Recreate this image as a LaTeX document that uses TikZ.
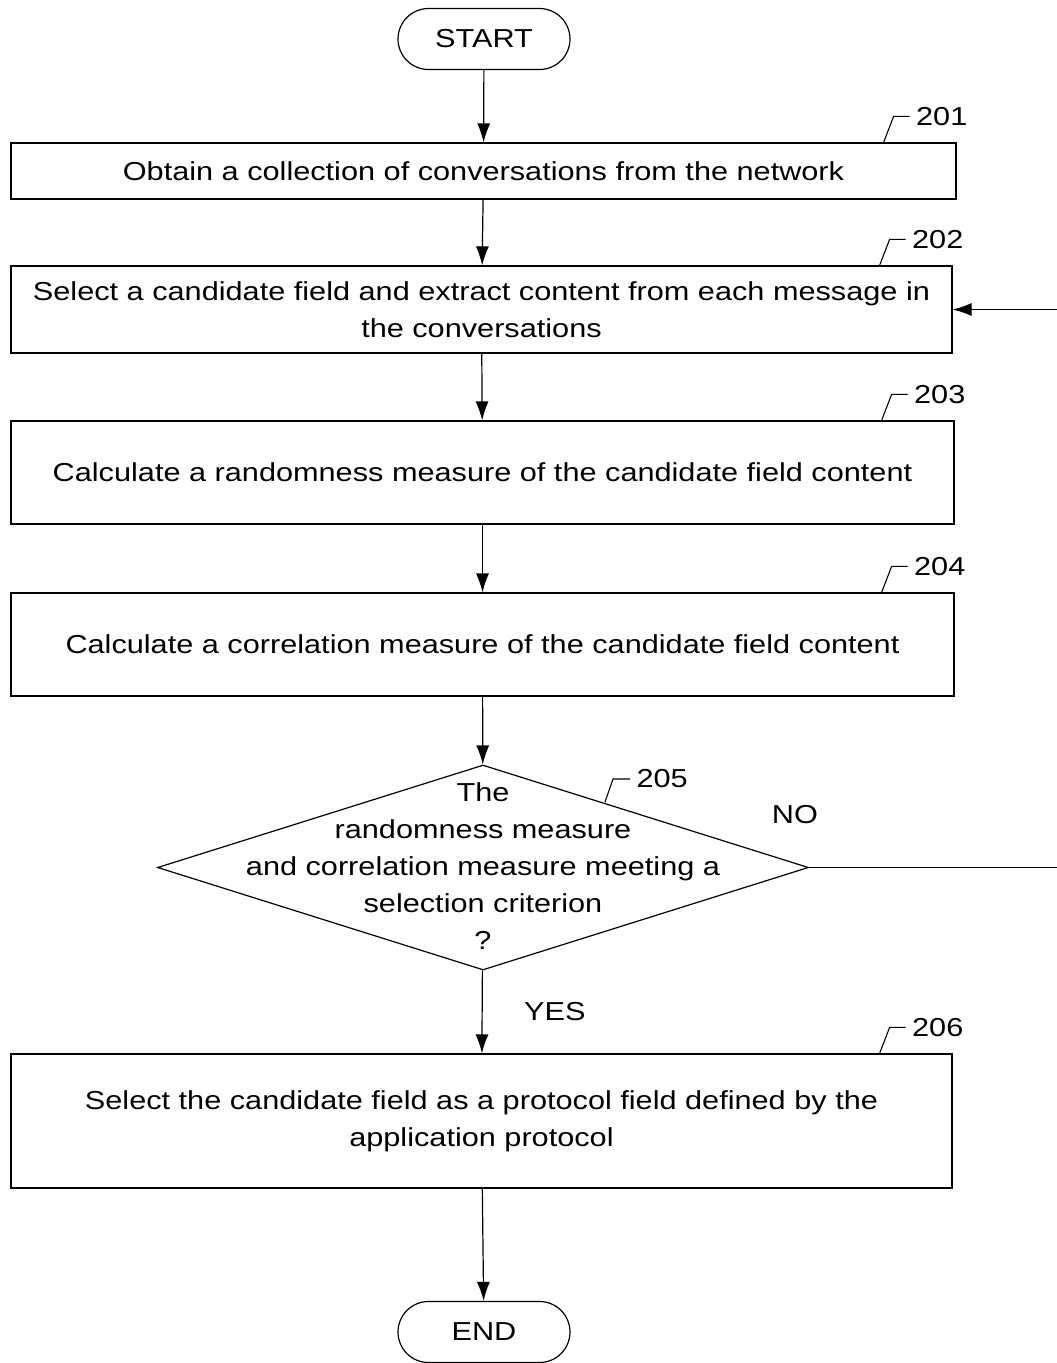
\documentclass[tikz,border=0pt]{standalone}
\usepackage{fontspec}
\setmainfont{Liberation Sans}[FakeStretch=1.18]
\usepackage{tikz}
\usetikzlibrary{positioning}
\usetikzlibrary{arrows.meta,shapes.geometric,shapes.misc}

\begin{document}
\begin{tikzpicture}[
    x=1pt, y=-1pt,
    font=\fontsize{26}{37}\selectfont,
    % flow chart shapes
    term/.style={rounded rectangle, draw, line width=1.2pt, minimum width=172pt, minimum height=61pt, inner sep=0pt},
    box/.style={rectangle, draw, line width=1.2pt, align=center, inner sep=0pt},
    dec/.style={diamond, draw, line width=1.2pt, minimum width=651pt, minimum height=205pt, inner sep=0pt},
    arr/.style={-{Latex[length=19pt,width=13pt]}, line width=1.2pt},
    line/.style={line width=1.2pt},
    lead/.style={line width=1.1pt},
    lbl/.style={anchor=west, inner sep=0pt},
]
\useasboundingbox (0,0) rectangle (1057,1363);

% -------------------------
% Terminals and steps
% -------------------------
\node[term] (start) at (484, 39) {START};

\node[box, minimum width=945pt, minimum height=56pt]  (b201) at (483.5, 171)   {Obtain a collection of conversations from the network};
\node[box, minimum width=941pt, minimum height=87pt]  (b202) at (481.5, 309.5) {Select a candidate field and extract content from each message in\\the conversations};
\node[box, minimum width=943pt, minimum height=103pt] (b203) at (482.5, 472.5) {Calculate a randomness measure of the candidate field content};
\node[box, minimum width=943pt, minimum height=103pt] (b204) at (482.5, 644.5) {Calculate a correlation measure of the candidate field content};

\node[dec] (d205) at (483, 867.5) {};
\node[align=center, inner sep=0pt] (t205) at (483, 866.5) {The\\randomness measure\\and correlation measure meeting a\\selection criterion\\?};

\node[box, minimum width=941pt, minimum height=134pt] (b206) at (481.5, 1121) {Select the candidate field as a protocol field defined by the\\application protocol};

\node[term] (end) at (484, 1332) {END};

% -------------------------
% Reference numerals
% -------------------------
\foreach \b/\n in {b201/201, b202/202, b203/203, b204/204, b206/206}{
  \draw[lead] ([xshift=-73pt]\b.north east) -- ++(10,-26) -- ++(16,0) node[lbl, right=6pt] (n\n) {\n};
}
\coordinate (p205) at (605, 802);
\draw[lead] (p205) -- ++(8,-23) -- ++(17,0) node[lbl, right=6pt] (n205) {205};

% -------------------------
% Flow
% -------------------------
\draw[arr] (start) -- (b201);
\draw[arr] (b201) -- (b202);
\draw[arr] (b202) -- (b203);
\draw[arr] (b203) -- (b204);
\draw[arr] (b204) -- (d205);
\draw[arr] (d205) -- (b206) node[pos=0.5, right=38pt] (yes) {YES};
\draw[arr] (b206) -- (end);

% loop back (NO branch leaves the sheet)
\coordinate (noend) at (1057, 867.5);
\coordinate (ret) at (1057, 309.5);
\draw[line] (d205.east) -- (noend);
\node (no) at (795, 815) {NO};
\draw[arr] (ret) -- (b202);

\end{tikzpicture}
\end{document}
